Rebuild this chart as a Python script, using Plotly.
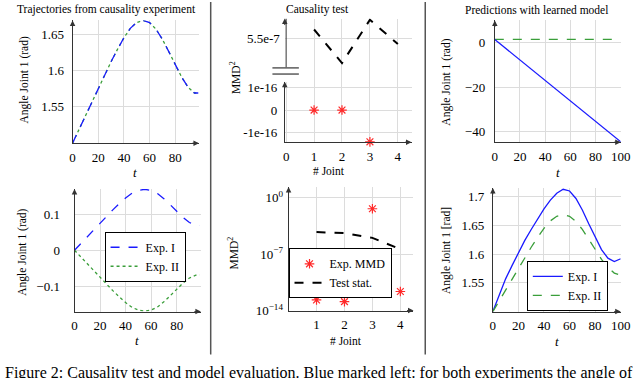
import plotly.graph_objects as go

W, H = 640, 378
def PX(px): return px / W
def PY(py): return 1 - py / H

FONT = "Liberation Serif, Times New Roman, serif"
BLUE = "#1a1aff"
GREEN = "#3a9e3a"
RED = "#ff2a2a"
AXC = "#333333"
GRID = "#dcdcdc"

# ---------------- data ----------------
t_traj = [0, 5, 10, 15, 20, 25, 30, 35, 40, 45, 50, 55, 60, 65, 70, 75, 80, 85, 90, 95, 98]
traj_exp1 = [1.5, 1.519, 1.538, 1.557, 1.576, 1.594, 1.612, 1.629, 1.645, 1.658, 1.666, 1.669,
             1.666, 1.657, 1.643, 1.626, 1.608, 1.591, 1.577, 1.569, 1.569]
traj_exp2 = [1.5, 1.519, 1.538, 1.557, 1.576, 1.594, 1.612, 1.629, 1.645, 1.658, 1.666, 1.669,
             1.666, 1.657, 1.643, 1.626, 1.608, 1.591, 1.577, 1.569, 1.569]
dev_exp1 = [0, 0.019, 0.038, 0.057, 0.076, 0.094, 0.112, 0.129, 0.145, 0.158, 0.166, 0.169,
            0.166, 0.157, 0.143, 0.126, 0.108, 0.091, 0.077, 0.069, 0.069]
dev_exp2 = [0, -0.019, -0.038, -0.057, -0.076, -0.094, -0.112, -0.129, -0.145, -0.158, -0.166, -0.169,
            -0.166, -0.157, -0.143, -0.126, -0.108, -0.091, -0.077, -0.069, -0.068]

joints = [1, 2, 3, 4]
joint_ticks = [0, 1, 2, 3, 4]
test_stat_lin = [5.85e-7, 4.47e-7, 6.25e-7, 5.25e-7]
exp_mmd_lin = [0.0, 0.0, -1.4e-16, 1.29e-16]
exp_mmd_log = [2.1e-13, 1.3e-13, 4.0e-2, 2.3e-12]
test_stat_log = [5.2e-5, 4.0e-5, 1.0e-5, 4.0e-7]

t_pred = [0, 100]
pred_exp1 = [1.5, -44.6]
pred_exp2 = [1.6, 1.6]

t_model = [0, 5, 10, 15, 20, 25, 30, 35, 40, 45, 50, 55, 60, 65, 70, 75, 80, 85, 90, 95, 100]
model_exp1 = [1.5, 1.53, 1.557, 1.58, 1.603, 1.624, 1.643, 1.662, 1.679, 1.694, 1.706, 1.713,
              1.710, 1.697, 1.677, 1.653, 1.629, 1.608, 1.593, 1.587, 1.592]
t_model2 = [0, 5, 10, 15, 20, 25, 30, 35, 40, 45, 50, 55, 60, 65, 70, 75, 80, 85, 90, 95, 98]
model_exp2 = [1.5, 1.519, 1.538, 1.557, 1.576, 1.594, 1.612, 1.629, 1.645, 1.658, 1.666, 1.669,
              1.666, 1.657, 1.643, 1.626, 1.608, 1.591, 1.577, 1.567, 1.565]

fig = go.Figure()

STAR = dict(symbol="asterisk-open", size=8, color=RED, line=dict(color=RED, width=1.2))

# TL
fig.add_trace(go.Scatter(x=t_traj, y=traj_exp2, mode="lines", line=dict(color=GREEN, width=1.3, dash="dot"),
                         xaxis="x", yaxis="y", showlegend=False))
fig.add_trace(go.Scatter(x=t_traj, y=traj_exp1, mode="lines", line=dict(color=BLUE, width=1.3, dash="dash"),
                         xaxis="x", yaxis="y", showlegend=False))
# BL
fig.add_trace(go.Scatter(x=t_traj, y=dev_exp1, mode="lines", name="Exp. I",
                         line=dict(color=BLUE, width=1.3, dash="dash"), xaxis="x2", yaxis="y2", legend="legend"))
fig.add_trace(go.Scatter(x=t_traj, y=dev_exp2, mode="lines", name="Exp. II",
                         line=dict(color=GREEN, width=1.3, dash="dot"), xaxis="x2", yaxis="y2", legend="legend"))
# TM
fig.add_trace(go.Scatter(x=joints, y=exp_mmd_lin, mode="markers", cliponaxis=False, marker=STAR,
                         xaxis="x3", yaxis="y3", showlegend=False))
fig.add_trace(go.Scatter(x=joints, y=test_stat_lin, mode="lines", cliponaxis=False,
                         line=dict(color="black", width=2, dash="dash"),
                         xaxis="x4", yaxis="y4", showlegend=False))
# BM
fig.add_trace(go.Scatter(x=joints, y=exp_mmd_log, mode="markers", name="Exp. MMD", cliponaxis=False,
                         marker=STAR, xaxis="x5", yaxis="y5", legend="legend2"))
fig.add_trace(go.Scatter(x=joints, y=test_stat_log, mode="lines", name="Test stat.",
                         line=dict(color="black", width=2, dash="dash"),
                         xaxis="x5", yaxis="y5", legend="legend2"))
# TR
fig.add_trace(go.Scatter(x=t_pred, y=pred_exp2, mode="lines", line=dict(color=GREEN, width=1.3, dash="dash"),
                         xaxis="x6", yaxis="y6", showlegend=False))
fig.add_trace(go.Scatter(x=t_pred, y=pred_exp1, mode="lines", line=dict(color=BLUE, width=1.2),
                         xaxis="x6", yaxis="y6", showlegend=False))
# BR
fig.add_trace(go.Scatter(x=t_model, y=model_exp1, mode="lines", name="Exp. I",
                         line=dict(color=BLUE, width=1.3), xaxis="x7", yaxis="y7", legend="legend3"))
fig.add_trace(go.Scatter(x=t_model2, y=model_exp2, mode="lines", name="Exp. II",
                         line=dict(color=GREEN, width=1.3, dash="dash"), xaxis="x7", yaxis="y7", legend="legend3"))

tickfont = dict(family=FONT, size=13, color="black")

def ax(domain, rng, anchor, tickvals=None, ticktext=None, showline=True, showlabels=True, typ="linear", standoff=0):
    d = dict(domain=domain, range=rng, anchor=anchor, showline=showline, linecolor=AXC, linewidth=1,
             showgrid=True, gridcolor=GRID, gridwidth=1, zeroline=False, ticks="",
             tickfont=tickfont, showticklabels=showlabels, type=typ, fixedrange=True,
             ticklabeloverflow="allow", ticklabelstandoff=standoff)
    if tickvals is not None:
        d["tickmode"] = "array"
        d["tickvals"] = tickvals
        if ticktext is not None:
            d["ticktext"] = ticktext
    return d

layout = dict(
    width=W, height=H, margin=dict(l=0, r=0, t=0, b=0),
    paper_bgcolor="white", plot_bgcolor="white",
    font=dict(family=FONT, size=12, color="black"),
    xaxis=ax([PX(71), PX(200)], [0, 98.5], "y", [0, 20, 40, 60, 80], standoff=2),
    yaxis=ax([PY(145), PY(19)], [1.5, 1.6688], "x", [1.55, 1.6, 1.65], ["1.55", "1.6", "1.65"], standoff=5),
    xaxis2=ax([PX(73), PX(202)], [0, 99], "y2", [0, 20, 40, 60, 80], standoff=2),
    yaxis2=ax([PY(318), PY(192)], [-0.17, 0.17], "x2", [-0.1, 0, 0.1], ["\u22120.1", "0", "0.1"], standoff=11),
    xaxis3=ax([PX(287.6), PX(417)], [-0.05, 4.49], "y3", joint_ticks, [str(v) for v in joint_ticks], standoff=2),
    yaxis3=ax([PY(144), PY(82)], [-1.416e-16, 1.245e-16], "x3", [-1e-16, 0, 1e-16], ["-1e-16", "0", "1e-16"], standoff=4),
    xaxis4=ax([PX(287.6), PX(417)], [-0.05, 4.49], "y4", joints, showline=False, showlabels=False),
    yaxis4=ax([PY(82), PY(17)], [3.7e-7, 6.3e-7], "x4", [5.5e-7], ["5.5e-7"], showline=False, standoff=4),
    xaxis5=ax([PX(291.5), PX(419)], [0, 4.47], "y5", joints, standoff=2),
    yaxis5=ax([PY(317), PY(190)], [-14, 1.3], "x5", [1, 1e-7, 1e-14],
              ["10<sup>0</sup>", "10<sup>\u22127</sup>", "10<sup>\u221214</sup>"], typ="log", standoff=2),
    xaxis6=ax([PX(502), PX(630.5)], [0, 100], "y6", [0, 20, 40, 60, 80, 100], standoff=2),
    yaxis6=ax([PY(144), PY(19)], [-44.8, 10.1], "x6", [-40, -20, 0], ["\u221240", "\u221220", "0"], standoff=6),
    xaxis7=ax([PX(500), PX(630.5)], [0, 100], "y7", [0, 20, 40, 60, 80, 100], standoff=2),
    yaxis7=ax([PY(318), PY(191)], [1.5, 1.7153], "x7", [1.55, 1.6, 1.65, 1.7], ["1.55", "1.6", "1.65", "1.7"], standoff=5),
)

legend_common = dict(bgcolor="white", bordercolor="black", borderwidth=1,
                     font=dict(family=FONT, size=12, color="black"),
                     xanchor="center", yanchor="top", tracegroupgap=0, itemwidth=30)
layout["legend"] = dict(x=PX(145), y=PY(236), **legend_common)
layout["legend2"] = dict(x=PX(344), y=PY(253), **legend_common)
layout["legend3"] = dict(x=PX(576), y=PY(266), **legend_common)

fig.update_layout(**layout)

annotations = []
def arrow(xr, yr, x, y, axp, ayp):
    annotations.append(dict(xref=xr, yref=yr, x=x, y=y, ax=axp, ay=ayp, text="", showarrow=True,
                            arrowhead=2, arrowsize=1.1, arrowwidth=1, arrowcolor=AXC))

for xa, ya in [("x", "y"), ("x2", "y2"), ("x3", "y3"), ("x5", "y5"), ("x6", "y6"), ("x7", "y7")]:
    arrow(xa + " domain", ya + " domain", 1, 0, -8, 0)
    arrow(xa + " domain", ya + " domain", 0, 1, 0, 8)
arrow("x4 domain", "y4 domain", 0, 1, 0, 8)

def text(s, x, y, size=11, angle=0):
    annotations.append(dict(xref="paper", yref="paper", x=PX(x), y=PY(y), text=s, showarrow=False,
                            textangle=angle, xanchor="center", yanchor="middle",
                            font=dict(family=FONT, size=size, color="black")))

text("Trajectories from causality experiment", 106, 8, 11.5)
text("Causality test", 321, 8, 11.5)
text("Predictions with learned model", 545, 8, 11.5)

text("Angle Joint 1 (rad)", 22, 80, 11.5, -90)
text("Angle Joint 1 (rad)", 20, 257, 11.5, -90)
text("MMD<sup>2</sup>", 237, 78, 11.5, -90)
text("MMD<sup>2</sup>", 235, 258, 11.5, -90)
text("Angle Joint 1 (rad)", 453, 82, 11.5, -90)
text("Angle Joint 1 [rad]", 452, 255, 11.5, -90)

text("<i>t</i>", 135, 175, 13)
text("# Joint", 333, 174, 11.5)
text("<i>t</i>", 566, 175, 13)
text("<i>t</i>", 137, 348, 13)
text("# Joint", 350, 348, 11.5)
text("<i>t</i>", 565, 349, 13)

annotations.append(dict(xref="paper", yref="paper", x=0, y=PY(370), xanchor="left", yanchor="top",
                        text="Figure 2: Causality test and model evaluation. Blue marked left: for both experiments the angle of",
                        showarrow=False, font=dict(family=FONT, size=16, color="black")))

fig.update_layout(annotations=annotations)

shapes = []
for xs in [212, 431]:
    shapes.append(dict(type="line", xref="paper", yref="paper", x0=PX(xs), x1=PX(xs), y0=1, y1=PY(362),
                       line=dict(color="#555555", width=1.5)))
# upper y-axis line of broken axis
shapes.append(dict(type="line", xref="x4 domain", yref="y4", x0=0.0108, x1=0.0108, y0=4.3e-7, y1=6.3e-7,
                   line=dict(color=AXC, width=1)))
# break marks
for yb in [67.7, 74]:
    shapes.append(dict(type="line", xref="paper", yref="paper", x0=PX(275), x1=PX(302), y0=PY(yb), y1=PY(yb),
                       line=dict(color=AXC, width=1.2)))
fig.update_layout(shapes=shapes)

fig.write_html("out.html", config={"displayModeBar": False},
               post_script="document.body.style.margin='0';document.body.style.overflow='hidden';")
